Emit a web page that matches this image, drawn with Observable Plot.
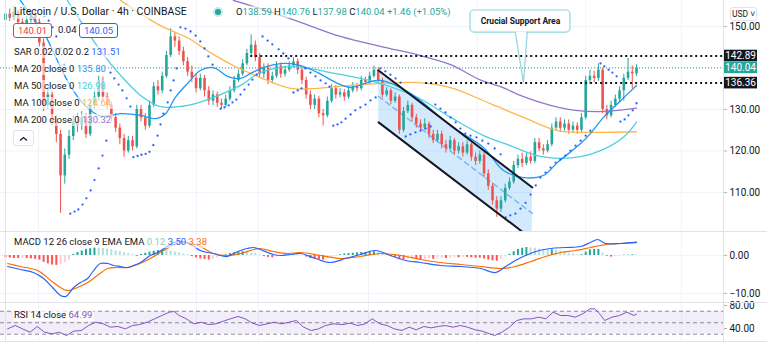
<!DOCTYPE html>
<html><head><meta charset="utf-8">
<script src="https://cdn.jsdelivr.net/npm/d3@7"></script>
<script src="https://cdn.jsdelivr.net/npm/@observablehq/plot@0.6"></script>
<style>
html,body{margin:0;padding:0;background:#fff;}
#wrap{position:relative;width:767px;height:344px;overflow:hidden;font-family:Roboto,"Liberation Sans",sans-serif;color:#131722;background:#fff;}
.lg{position:absolute;left:13px;font-size:9.5px;white-space:nowrap;line-height:12px;background:rgba(255,255,255,0.6);padding:0 2px 0 1px;}
.sep{position:absolute;background:#e0e3eb;}
.box{position:absolute;top:23px;height:13px;line-height:13px;width:37px;text-align:center;font-size:9.5px;border:1px solid;border-radius:3px;background:#fff;}
</style></head>
<body><div id="wrap"></div>
<script>
// ---- candle data (4h, index 0..149) ----
const open = [151.5,153,152,153.5,151,150,151.5,153,151,146,131,133.5,127,124,114,119,123.5,127,126,128,124,131,133,137,133,131,128,125.5,123,120,122.5,121,130,128,126,131,135.5,134.5,138,143,147.5,146.5,144,141.5,139,137.5,135,137.5,134.5,132,133.5,131.5,131,132.5,134.5,137,138.5,141,143.5,145.5,142.5,138.5,140,137,138,140.5,138.5,139.5,140.5,141.5,139.5,137,133.5,131,132.5,129,128.5,132,135,133.5,134,133,134.5,135.5,135,137,136.5,138,139.5,137,133.5,134.5,132,133,125,129.5,131,128,126.5,125.5,126.5,124,122.5,124,121.5,120.5,122.5,120,121,119.5,121.5,118.5,117.5,119,114.5,111.5,108,106,108,111,112.5,116.5,118,117,118.5,117.5,122,120.5,120,121.5,125.5,127,125.5,126.5,125,126,125,128,137,138,137.5,139.5,130,128.5,131,132.5,134.5,137.5,139,138.59];
const high = [154,154.2,155,154,152,152.5,154,153.8,152,147,135,134.5,128.5,125,120.5,125,128.5,129,129.5,129,132,134.5,138,137.8,134,131.8,129,126.5,124,123.5,123.5,131,131,129,132,136.5,137,139,144,149.5,148.5,147.5,145,142.5,140.5,138.5,138.5,138.2,135.5,134.5,134.2,132.5,133.5,135.5,138,139.5,142,144.5,148,146.5,143.5,141,141,139,141.5,141.2,140.5,141.5,142.5,142.2,140.2,137.8,134.5,133.5,133.2,130,133,136,135.8,135,134.8,135.5,136.5,136.3,138,137.8,139,140.5,140,137.5,135.2,135,134,133.5,130.5,132,131.5,128.8,127.5,127.8,127,125,125,124.8,122.5,123.5,123,122,122,122.5,122,119.5,120,119.8,115.5,112.2,109,109,112,113.5,117.5,119,119.5,119.5,119.8,123,123,121.5,122.5,126.5,128,128,127.5,127.5,127,126.8,129,138,139.5,139.2,141,140,131,132,133.5,135.5,138.5,142.3,140.5,140.76];
const low = [150.8,151.2,151.5,150.2,149,149.5,150.8,150,145,129.5,130,126,122,105,112,118,122.5,124.5,125,123,123.5,130,132,132,130,127,124.5,121.5,118.5,119.5,120,120.5,127,125,125.5,130.5,133.5,133.8,137.5,142.5,145,143,140.5,138,136.5,134,134.5,133,131,131,130.5,130,130.5,132,134,136.5,138,140.5,143,141.5,137.5,137.5,136,136.2,137.5,137.5,137.8,139,140,138.5,136,132.5,130,130,128,126,128,131.5,132.5,132.8,132,132.5,134,134.2,134.5,135.8,136,137.5,136.5,132.8,133,131.2,131.5,124,124.5,129,127,125.5,124.8,125,123,121.8,122,120.5,119.5,120,119,119.2,118.5,119,117.5,116.5,116.8,113.5,110.5,107,104,105.2,107.5,110.5,112,115.8,116,116.5,116.8,117,119.8,119,119.5,121,125,124.5,124.8,124,124.2,124,124.5,127.5,136,136.5,136.8,129,127.5,128,130.5,131.5,132,137,135,137.98];
const close = [153,152,153.5,151,150,151.5,153,151,146,131,133.5,127,124,114,119,123.5,127,126,128,124,131,133,137,133,131,128,125.5,123,120,122.5,121,130,128,126,131,135.5,134.5,138,143,147.5,146.5,144,141.5,139,137.5,135,137.5,134.5,132,133.5,131.5,131,132.5,134.5,137,138.5,141,143.5,145.5,142.5,138.5,140,137,138,140.5,138.5,139.5,140.5,141.5,139.5,137,133.5,131,132.5,129,128.5,132,135,133.5,134,133,134.5,135.5,135,137,136.5,138,139.5,137,133.5,134.5,132,133,125,129.5,131,128,126.5,125.5,126.5,124,122.5,124,121.5,120.5,122.5,120,121,119.5,121.5,118.5,117.5,119,114.5,111.5,108,106,108,111,112.5,116.5,118,117,118.5,117.5,122,120.5,120,121.5,125.5,127,125.5,126.5,125,126,125,128,137,138,137.5,139.5,130,128.5,131,132.5,134.5,137.5,139,138.59,140.04];

// ---- moving averages: [candle index, price] ----
const ma20 = [[3.5,156.3],[6.6,151.9],[9.4,147.8],[12.3,141.7],[15.3,135.7],[18.4,131.4],[22.4,128.4],[27.2,129.0],[31.9,128.6],[35.4,127.8],[37.8,129.0],[40.1,132.9],[43.0,136.3],[46.0,139.4],[49.1,140.1],[52.4,138.0],[55.5,137.5],[57.9,138.7],[60.9,140.1],[65.6,141.1],[69.7,140.6],[73.7,138.9],[78.4,136.3],[81.5,135.3],[85.5,136.5],[88.5,137.0],[95.6,133.9],[105.1,126.1],[112.9,120.8],[117.6,115.3],[122.3,113.6],[127.0,114.1],[130.3,117.2],[135.8,121.8],[138.1,124.2],[141.2,128.1],[144.5,131.4],[149.0,135.8]];
const ma50 = [[14.6,156.3],[18.9,149.5],[22.4,144.2],[27.2,138.2],[31.9,133.4],[36.6,130.7],[43.0,131.0],[49.1,132.9],[55.5,135.8],[60.2,138.9],[68.0,140.4],[76.7,138.9],[87.8,136.5],[97.3,132.9],[105.1,128.1],[112.9,123.7],[119.2,121.3],[126.3,118.7],[134.1,118.4],[140.5,120.1],[145.9,123.3],[149.0,126.98]];
const ma100 = [[27.2,156.3],[36.6,150.2],[43.0,147.3],[48.4,143.7],[53.8,140.6],[60.2,137.7],[67.3,135.1],[73.7,135.1],[81.5,135.8],[89.3,136.3],[97.3,136.5],[105.1,135.3],[114.5,131.4],[122.3,128.1],[130.3,124.9],[138.1,124.5],[149.0,124.64]];
const ma200 = [[53.8,156.3],[60.2,154.3],[69.7,151.0],[79.1,147.6],[88.5,145.2],[98.0,143.0],[105.1,140.8],[112.2,137.1],[116.9,135.5],[122.3,133.1],[128.7,131.0],[134.6,129.8],[140.5,129.5],[149.0,130.32]];

// ---- parabolic SAR dots: [candle index, price] ----
const sar = [[9.2,152.4],[10.2,151.4],[11.1,149.8],[12.0,147.6],[13.0,144.7],[13.9,140.8],
[15.3,104.9],[16.3,105.4],[17.2,105.9],[18.2,107.1],[19.1,108.6],[20.1,110.5],[21.0,113.0],[22.0,115.8],[22.9,118.9],[23.8,122.5],
[24.8,138.9],[25.7,137.5],[26.7,136.0],[27.6,134.6],[28.6,132.7],[29.5,130.7],
[30.2,118.5],[31.2,118.8],[32.1,119.1],[33.1,119.3],[34.0,119.8],[34.9,121.4],[35.9,123.7],[36.6,126.4],[37.3,129.0],[38.3,131.7],[39.0,134.6],[39.7,137.0],[40.4,139.9],
[41.3,149.8],[42.5,149.5],[43.7,148.8],[44.9,147.8],[46.0,146.4],[47.0,144.7],[47.9,142.8],[48.9,140.8],
[50.8,130.2],[51.7,130.5],[52.7,131.0],[53.6,131.7],[54.5,132.4],[55.5,133.6],[56.4,134.8],[57.4,136.0],[58.3,137.2],[59.3,138.4],
[60.7,147.6],[61.9,146.6],[63.0,145.7],[64.5,144.5],[65.6,143.5],[66.8,142.3],
[68.0,134.1],[69.0,134.6],[69.9,135.1],
[70.8,139.9],[72.0,138.9],[73.2,138.0],[74.4,137.0],[75.6,136.3],[76.5,135.5],
[77.4,126.1],[78.4,126.4],[79.3,126.9],[80.3,127.8],[81.5,128.8],[82.6,129.8],[83.8,130.5],[85.0,131.2],[86.2,132.2],[87.4,132.9],
[88.5,139.9],[89.7,139.2],[90.9,138.4],[92.1,137.5],[93.3,136.5],
[94.5,123.5],[95.6,124.0],[96.8,124.5],[98.0,124.9],[99.2,125.4],[100.4,125.9],
[101.5,131.2],[102.7,130.2],[103.9,129.3],[105.1,128.1],[106.3,126.9],[107.4,125.4],[108.6,124.2],[109.8,123.7],[111.2,123.3],[112.6,122.5],[114.0,121.8],[115.5,120.6],[116.9,119.2],
[118.1,104.0],[119.2,104.5],[120.4,104.9],[121.6,106.1],[122.8,107.5],[124.0,109.5],[125.2,111.7],[126.3,113.6],[127.5,114.8],[128.7,116.0],[129.9,117.2],[131.0,118.0],[132.2,118.9],[133.4,120.1],[134.6,121.3],[135.8,122.5],[137.0,123.7],[138.1,124.9],
[140.5,141.1],[141.4,140.4],[142.4,139.6],[143.3,138.9],[144.3,138.0],
[145.2,127.1],[146.2,127.6],[147.1,128.6],[148.1,129.8],[149.0,131.51]];

// ---- MACD pane ----
const macdHist = [-0.6,-0.7,-0.8,-0.8,-0.7,-0.8,-0.9,-1.0,-1.2,-1.8,-2.2,-2.5,-2.6,-2.4,-1.9,-1.2,0.3,0.8,1.2,1.6,1.8,2.1,2.0,1.9,1.7,1.5,1.2,1.0,0.7,0.5,0.2,-0.2,0.3,0.6,0.9,1.1,1.3,1.4,1.3,1.1,0.9,0.7,0.4,0.2,-0.3,-0.6,-0.9,-1.1,-1.2,-1.0,-0.7,-0.2,0.2,0.5,0.7,0.9,1.0,0.8,0.6,0.5,0.2,-0.3,-0.5,-0.6,-0.4,-0.2,0.1,0.2,0.3,0.2,0.0,-0.4,-0.8,-1.0,-1.1,-1.2,-0.9,-0.5,-0.2,0.2,0.4,0.5,0.6,0.7,0.8,0.8,0.9,1.0,0.8,0.4,0.1,-0.3,-0.5,-1.0,-1.1,-1.0,-0.9,-1.0,-1.1,-1.0,-0.9,-1.0,-0.9,-0.8,-0.8,-0.7,-0.6,-0.6,-0.5,-0.5,-0.6,-0.7,-0.7,-0.9,-1.2,-1.4,-1.5,-1.0,-0.4,0.3,1.0,1.6,1.9,2.1,2.0,1.9,1.7,1.5,1.4,1.5,1.4,1.2,0.9,0.6,0.4,0.2,0.2,0.9,1.5,1.6,1.6,0.6,-0.2,-0.4,-0.3,-0.2,0.1,0.1,0.2,0.12];
const macdLine = [[0.5,-2.89],[3.5,-3.68],[6.6,-4.47],[9.0,-6.05],[11.1,-8.42],[13.0,-10.53],[14.2,-10.79],[16.1,-8.42],[17.7,-7.11],[19.4,-6.05],[20.8,-3.95],[22.4,-2.11],[24.1,-2.11],[25.5,-2.63],[27.2,-2.89],[28.8,-3.16],[30.2,-2.63],[31.9,-1.84],[34.2,0],[35.9,0.79],[37.8,2.1],[39.7,3.42],[42.0,3.68],[44.2,2.63],[46.0,1.32],[47.7,0.79],[49.1,0.53],[50.8,0],[52.4,-0.26],[53.8,0.53],[55.5,1.32],[57.1,1.84],[58.6,2.11],[60.2,1.58],[61.9,0.79],[63.3,0.26],[64.9,0],[67.3,0.26],[69.7,0.53],[73.2,-0.79],[76.7,-1.84],[80.3,-0.79],[83.8,0.26],[87.4,1.32],[90.9,0],[94.5,-1.32],[98.0,-1.84],[102.7,-2.63],[107.4,-2.89],[112.2,-3.42],[115.7,-4.47],[118.1,-2.89],[120.4,-1.32],[122.8,0],[125.2,1.05],[128.7,1.84],[132.2,2.11],[135.8,2.37],[138.1,3.42],[139.8,4.21],[141.7,3.16],[145.2,3.16],[149.0,3.50]];
const signalLine = [[0.5,-2.11],[3.5,-2.89],[7.6,-3.95],[11.3,-7.11],[14.6,-9.21],[17.0,-8.42],[19.4,-7.11],[21.7,-5.26],[24.1,-3.42],[26.4,-3.16],[28.8,-3.16],[31.2,-2.37],[34.2,-0.79],[37.3,1.32],[40.6,3.16],[43.0,3.42],[46.0,2.37],[49.1,0.53],[52.4,0],[55.5,0.53],[58.6,1.58],[60.2,1.84],[63.3,1.05],[66.6,0.53],[69.7,0.79],[74.4,0],[79.1,-0.79],[83.8,-0.26],[88.5,0.53],[93.3,0],[98.0,-1.05],[102.7,-1.84],[107.4,-2.37],[112.2,-2.89],[116.9,-3.42],[120.4,-2.89],[124.0,-1.58],[127.5,-0.26],[131.1,0.79],[134.6,1.32],[138.1,2.11],[140.5,2.63],[142.9,3.03],[145.2,3.16],[149.0,3.38]];

// ---- RSI pane ----
const rsi = [[0.5,39.4],[2.3,45.2],[4.0,39.4],[5.8,33.6],[7.5,43.5],[9.2,33.6],[11.0,30.7],[12.7,33.6],[14.4,27.8],[16.1,35.3],[17.9,36.5],[19.6,45.2],[21.3,51.0],[23.1,48.1],[24.8,42.3],[26.5,43.5],[28.3,39.4],[30.0,45.2],[31.7,46.9],[33.5,51.0],[35.2,56.8],[36.9,62.6],[38.7,68.4],[39.8,69.6],[41.0,62.6],[42.7,56.8],[44.5,48.1],[46.2,51.0],[47.9,46.9],[49.7,48.1],[51.4,52.7],[53.1,56.8],[54.9,60.9],[56.6,56.8],[58.3,49.3],[60.0,45.2],[61.8,48.1],[63.5,51.0],[65.2,48.1],[67.0,51.0],[68.7,53.9],[70.4,42.3],[72.2,36.5],[73.9,39.4],[75.6,45.2],[77.4,48.1],[79.7,46.9],[81.4,49.3],[83.2,45.2],[84.9,48.1],[86.6,56.8],[88.4,48.1],[90.1,45.2],[91.8,39.4],[93.6,36.5],[95.3,42.3],[97.0,37.7],[98.8,43.5],[100.5,41.1],[102.2,43.5],[103.9,45.2],[105.7,42.3],[107.4,45.2],[109.1,42.3],[110.9,37.7],[112.6,35.3],[114.3,30.7],[115.5,27.8],[117.2,33.6],[119.0,42.3],[120.7,53.9],[122.4,56.8],[124.2,56.8],[125.9,59.7],[127.6,56.8],[129.3,68.4],[131.1,62.6],[132.8,62.6],[134.5,59.7],[136.3,65.5],[138.0,74.2],[139.2,74.2],[140.3,65.5],[141.5,53.9],[143.2,59.7],[145.0,62.6],[146.7,68.4],[148.4,62.6],[149.0,64.99]];

// ---- drawings & labels ----
const channelX = [88.1, 124.4];
const channelUpper = [139.4, 111.2];
const channelLower = [126.9, 98.7];
const channelMid = [133.15, 104.95];
const resistance = 142.89, support = 136.36, lastPrice = 140.04;
const resistanceFrom = 57.9, supportFrom = 99.2;
const calloutText = "Crucial Support Area";
const calloutBox = [109.8, 133.4, 148.55, 153.86];
const calloutTip = [[120.4,148.55],[122.3,136.5],[123.2,148.55]];
const priceGrid = [110,120,130,140,150];
const priceTicks = [110,120,130,150];
const macdTicks = [0,-10];
const rsiTicks = [40,80];
const rsiBands = [30,50,70];
const gridIdx = [7.8,45.1,59.7,85.7,111.4,137.0,159.6];
const maNames = ["MA 20 close 0","MA 50 close 0","MA 100 close 0","MA 200 close 0"];
const maLast = ["135.80","126.98","124.64","130.32"];
const ohlcLabels = ["O","H","L","C"];
const ohlcLast = ["138.59","140.76","137.98","140.04"];
const changeText = "+1.46 (+1.05%)";

// ---- styling ----
const UP = "#26a69a", DOWN = "#ef5350";
const MA_COLORS = ["#2196f3","#4dd0e1","#ffb74d","#9575cd"];
const X_DOMAIN = [-1.18, 169.54];
const AX0 = 169.54, AX1 = 170.5, TAG1 = 177.57, TAGC = 173.56;
const FONT = "Roboto, 'Liberation Sans', sans-serif";
const base = {
  width: 767, marginLeft: 0, marginRight: 44, marginTop: 0, marginBottom: 0,
  x: {domain: X_DOMAIN, axis: null},
  color: {type: "identity"},
  style: {background: "transparent", fontFamily: FONT, fontSize: "10px", color: "#131722", overflow: "visible"}
};
const fmt2 = d => d.toFixed(2).replace("-", "\u2212");

const candles = close.map((c, i) => ({i, o: open[i], h: high[i], l: low[i], c}));
const ups = candles.filter(d => d.c >= d.o), downs = candles.filter(d => d.c < d.o);
const bodyEnd = d => Math.abs(d.c - d.o) < 0.2 ? d.o + (d.c >= d.o ? 0.2 : -0.2) : d.c;
const channelRows = channelX.map((x, k) => ({i: x, hi: channelUpper[k], lo: channelLower[k], mid: channelMid[k]}));
const tags = [{v: resistance, bg: "#131722"}, {v: lastPrice, bg: UP}, {v: support, bg: "#131722"}];

const mainSvg = Plot.plot({
  ...base, height: 231,
  y: {domain: [100.60, 156.27]},
  marks: [
    Plot.ruleY(priceGrid, {stroke: "#f0f3fa"}),
    Plot.ruleX(gridIdx, {stroke: "#f0f3fa"}),
    Plot.axisY({anchor: "right", ticks: priceTicks, tickSize: 0, tickPadding: 6, tickFormat: fmt2, label: null, fontSize: 10}),
    Plot.ruleY(priceTicks, {x1: AX0, x2: AX1, stroke: "#b2b5be"}),
    Plot.areaY(channelRows, {x: "i", y1: "lo", y2: "hi", fill: "#2196f3", fillOpacity: 0.2, clip: true}),
    Plot.line(channelRows, {x: "i", y: "mid", stroke: "#2196f3", strokeOpacity: 0.55, strokeDasharray: "5,4", clip: true}),
    Plot.ruleY([lastPrice], {stroke: UP, strokeDasharray: "1,2", strokeWidth: 1}),
    Plot.ruleX(ups, {x: "i", y1: "l", y2: "h", stroke: UP, strokeWidth: 1}),
    Plot.ruleX(downs, {x: "i", y1: "l", y2: "h", stroke: DOWN, strokeWidth: 1}),
    Plot.ruleX(ups, {x: "i", y1: "o", y2: bodyEnd, stroke: UP, strokeWidth: 2.6}),
    Plot.ruleX(downs, {x: "i", y1: "o", y2: bodyEnd, stroke: DOWN, strokeWidth: 2.6}),
    Plot.line(ma200, {x: d => d[0], y: d => d[1], stroke: MA_COLORS[3], strokeWidth: 1.3, curve: "catmull-rom", clip: true}),
    Plot.line(ma100, {x: d => d[0], y: d => d[1], stroke: MA_COLORS[2], strokeWidth: 1.3, curve: "catmull-rom", clip: true}),
    Plot.line(ma50, {x: d => d[0], y: d => d[1], stroke: MA_COLORS[1], strokeWidth: 1.3, curve: "catmull-rom", clip: true}),
    Plot.line(ma20, {x: d => d[0], y: d => d[1], stroke: MA_COLORS[0], strokeWidth: 1.3, curve: "catmull-rom", clip: true}),
    Plot.dot(sar, {x: d => d[0], y: d => d[1], r: 1.15, fill: "#2962ff", stroke: null, clip: true}),
    Plot.line([[channelX[0], channelUpper[0]], [channelX[1], channelUpper[1]]], {stroke: "#131722", strokeWidth: 2, clip: true}),
    Plot.line([[channelX[0], channelLower[0]], [channelX[1], channelLower[1]]], {stroke: "#131722", strokeWidth: 2, clip: true}),
    Plot.ruleY([resistance], {x1: resistanceFrom, x2: AX0, stroke: "#131722", strokeWidth: 2, strokeDasharray: "2,3"}),
    Plot.ruleY([support], {x1: supportFrom, x2: AX0, stroke: "#131722", strokeWidth: 2, strokeDasharray: "2,3"}),
    Plot.rect([calloutBox], {x1: d => d[0], x2: d => d[1], y1: d => d[2], y2: d => d[3], fill: "white", stroke: "#8fd5dc", strokeWidth: 1.2, rx: 4}),
    Plot.line(calloutTip, {x: d => d[0], y: d => d[1], stroke: "#8fd5dc", strokeWidth: 1.2}),
    Plot.ruleY([calloutBox[2]], {x1: 120.65, x2: 122.95, stroke: "white", strokeWidth: 2}),
    Plot.text([calloutText], {x: (calloutBox[0] + calloutBox[1]) / 2, y: 151.3, fontWeight: "bold", fontSize: 8.5, fill: "#131722"}),
    Plot.rect(tags, {x1: AX0, x2: TAG1, y1: d => d.v - 1.4, y2: d => d.v + 1.4, fill: "bg"}),
    Plot.text(tags, {x: TAGC, y: "v", text: d => d.v.toFixed(2), fill: "white", fontSize: 10})
  ]
});

const histRows = macdHist.map((v, i) => {
  const prev = i > 0 ? macdHist[i - 1] : v;
  const c = v >= 0 ? (v >= prev ? "#26a69a" : "#b2dfdb") : (v <= prev ? "#ff5252" : "#ffcdd2");
  return {i, v, c};
});
const macdSvg = Plot.plot({
  ...base, height: 71,
  y: {domain: [-12.37, 6.32]},
  marks: [
    Plot.ruleY(macdTicks, {stroke: "#f0f3fa"}),
    Plot.ruleX(gridIdx, {stroke: "#f0f3fa"}),
    Plot.axisY({anchor: "right", ticks: macdTicks, tickSize: 0, tickPadding: 6, tickFormat: fmt2, label: null, fontSize: 10}),
    Plot.ruleY(macdTicks, {x1: AX0, x2: AX1, stroke: "#b2b5be"}),
    Plot.ruleX(histRows, {x: "i", y1: 0, y2: "v", stroke: "c", strokeWidth: 2}),
    Plot.line(signalLine, {x: d => d[0], y: d => d[1], stroke: "#ff6d00", strokeWidth: 1.2, curve: "catmull-rom"}),
    Plot.line(macdLine, {x: d => d[0], y: d => d[1], stroke: "#2962ff", strokeWidth: 1.2, curve: "catmull-rom"})
  ]
});

const rsiSvg = Plot.plot({
  ...base, height: 39,
  y: {domain: [17.39, 85.2]},
  marks: [
    Plot.ruleX(gridIdx, {stroke: "#f0f3fa"}),
    Plot.rect([[rsiBands[0], rsiBands[2]]], {x1: X_DOMAIN[0], x2: AX0, y1: d => d[0], y2: d => d[1], fill: "#7e57c2", fillOpacity: 0.1}),
    Plot.ruleY(rsiBands, {x1: X_DOMAIN[0], x2: AX0, stroke: "#787b86", strokeDasharray: "4,3", strokeOpacity: 0.85}),
    Plot.axisY({anchor: "right", ticks: rsiTicks, tickSize: 0, tickPadding: 6, tickFormat: fmt2, label: null, fontSize: 10}),
    Plot.ruleY(rsiTicks, {x1: AX0, x2: AX1, stroke: "#b2b5be"}),
    Plot.line(rsi, {x: d => d[0], y: d => d[1], stroke: "#7e57c2", strokeWidth: 1})
  ]
});

const wrap = document.getElementById("wrap");
[[mainSvg, 0], [macdSvg, 231], [rsiSvg, 302]].forEach(([svg, top]) => {
  svg.style.position = "absolute"; svg.style.left = "0px"; svg.style.top = top + "px";
  wrap.append(svg);
});

function add(html) { wrap.insertAdjacentHTML("beforeend", html); }
// separators
add('<div class="sep" style="left:0;top:231px;width:767px;height:1px"></div>');
add('<div class="sep" style="left:0;top:302px;width:767px;height:1px"></div>');
add('<div class="sep" style="left:0;top:341px;width:767px;height:1px"></div>');
add('<div class="sep" style="left:723px;top:0;width:1px;height:341px"></div>');
add('<div class="sep" style="left:5px;top:0;width:1px;height:341px"></div>');

// legends
add('<div class="lg" style="top:5px;font-size:10.5px;line-height:14px">Litecoin / U.S. Dollar \u00b7 4h \u00b7 COINBASE</div>');
add('<div style="position:absolute;left:215px;top:9px;width:6px;height:6px;border-radius:50%;background:#26a69a;box-shadow:0 0 0 2px rgba(38,166,154,0.25)"></div>');
add('<div class="lg" style="left:235px;top:6px">' + ohlcLabels.map((l, k) => l + '<span style="color:#26a69a">' + ohlcLast[k] + '</span>').join(' ') + ' <span style="color:#26a69a">' + changeText + '</span></div>');
add('<div class="box" style="left:13px;color:#f23645;border-color:#f23645">140.01</div>');
add('<div class="lg" style="left:57px;top:24px;background:none">0.04</div>');
add('<div class="box" style="left:79px;color:#2962ff;border-color:#2962ff">140.05</div>');
add('<div class="lg" style="top:46px">SAR 0.02 0.02 0.2 <span style="color:#2962ff">131.51</span></div>');
maNames.forEach((n, k) => add('<div class="lg" style="top:' + (63 + 17 * k) + 'px">' + n + ' <span style="color:' + MA_COLORS[k] + '">' + maLast[k] + '</span></div>'));
add('<div style="position:absolute;left:13px;top:130px;width:19px;height:14px;border:1px solid #e0e3eb;border-radius:3px;background:#fff"><svg width="19" height="14"><polyline points="6,8.5 9.5,5.5 13,8.5" fill="none" stroke="#131722" stroke-width="1.2"/></svg></div>');
add('<div class="lg" style="top:236px">MACD 12 26 close 9 EMA EMA <span style="color:#80cbc4">0.12</span> <span style="color:#2962ff">3.50</span> <span style="color:#ff6d00">3.38</span></div>');
add('<div class="lg" style="top:309px;background:rgba(255,255,255,0.75)">RSI 14 close <span style="color:#7e57c2">64.99</span></div>');
add('<div style="position:absolute;left:730px;top:7px;width:25px;height:12px;line-height:12px;border:1px solid #e0e3eb;border-radius:3px;font-size:8.5px;text-align:center;background:#fff">USD \u02c5</div>');
</script>
</body></html>
